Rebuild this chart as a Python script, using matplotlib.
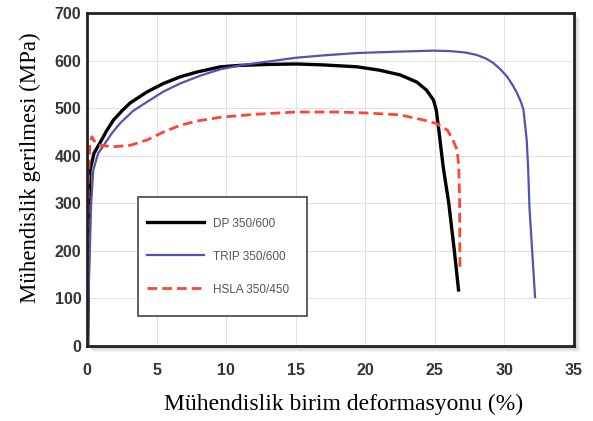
import matplotlib.pyplot as plt
from matplotlib.patches import Rectangle

# engineering stress-strain curves
dp_strain = [0.05, 0.1, 0.15, 0.22, 0.5, 0.93, 1.4, 1.9, 2.5, 3.1, 4.3, 5.5, 6.7, 7.9, 9.6, 11, 13, 15, 17,
             19.4, 21, 22.5, 23.7, 24.4, 24.9, 25.1, 25.3, 25.6, 26.0, 26.4, 26.7]
dp_stress = [0, 150, 300, 370, 405, 427, 452, 475, 494, 511, 534, 552, 566, 576, 587, 590, 592, 593, 591,
             587, 580, 570, 555, 538, 517, 496, 450, 376, 300, 200, 118]

trip_strain = [0.05, 0.15, 0.3, 0.45, 0.8, 1.2, 1.8, 2.4, 3.3, 4.3, 5.5, 6.7, 8.1, 9.6, 11, 13, 15, 17, 19.4,
               22.5, 24.9, 26.1, 27.2, 28.0, 28.7, 29.2, 29.7, 30.2, 30.6, 30.9, 31.2, 31.37, 31.6, 31.7,
               31.8, 31.95, 32.2]
trip_stress = [0, 150, 300, 370, 405, 422, 448, 469, 494, 513, 535, 552, 568, 582, 590, 598, 606, 611, 616,
               619, 621, 620, 617, 612, 604, 595, 582, 566, 548, 532, 512, 496, 433, 376,
               290, 220, 103]

hsla_strain = [0.02, 0.05, 0.1, 0.2, 0.35, 0.6, 0.93, 1.9, 3.1, 4.3, 5.5, 6.7, 7.9, 9.6, 12, 15, 18, 20,
               22.5, 24.2, 25.1, 25.9, 26.3, 26.6, 26.72, 26.78, 26.8]
hsla_stress = [0, 200, 350, 420, 440, 427, 422, 419, 422, 433, 450, 464, 473, 481, 487, 492, 492, 490,
               486, 475, 468, 454, 433, 412, 376, 300, 164]

labels = ["DP 350/600", "TRIP 350/600", "HSLA 350/450"]
xticks = [0, 5, 10, 15, 20, 25, 30, 35]
yticks = [0, 100, 200, 300, 400, 500, 600, 700]

fig = plt.figure(figsize=(5.93, 4.21), dpi=100)
ax = fig.add_axes([0.1467, 0.178, 0.8213, 0.791])

# soft drop shadow behind the frame
for i, a in enumerate([0.10, 0.08, 0.06, 0.04]):
    off = (i + 1) * 1.5
    fig.patches.append(Rectangle((0.1467 + off / 593, 0.178 - off / 421), 0.8213, 0.791,
                                 transform=fig.transFigure, facecolor="black", alpha=a,
                                 edgecolor="none", zorder=-1))

ax.plot(dp_strain, dp_stress, color="black", lw=2.4, label=labels[0], solid_joinstyle="round")
ax.plot(trip_strain, trip_stress, color="#5252b0", lw=1.6, label=labels[1], solid_joinstyle="round")
ax.plot(hsla_strain, hsla_stress, color="#ff4433", lw=2.0, ls=(0, (3.5, 1.8)), label=labels[2])

ax.set_xlim(0, 35)
ax.set_ylim(0, 700)
ax.set_xticks(xticks)
ax.set_yticks(yticks)
ax.grid(color="#dde2e6", lw=0.7)
ax.set_axisbelow(True)
for s in ax.spines.values():
    s.set_linewidth(2.0)
    s.set_color("#222222")
ax.tick_params(axis="x", length=0, pad=12)
ax.tick_params(axis="y", length=0, pad=4)
for t in ax.get_xticklabels() + ax.get_yticklabels():
    t.set_family("Liberation Sans")
    t.set_fontweight("bold")
    t.set_fontsize(11.5)
    t.set_color("#353535")

ax.set_xlabel("Mühendislik birim deformasyonu (%)", family="Liberation Serif", fontsize=17)
ax.xaxis.set_label_coords(0.526, -0.142)
ax.set_ylabel("Mühendislik gerilmesi (MPa)", family="Liberation Serif", fontsize=16.5)
ax.yaxis.set_label_coords(-0.094, 0.535)

# legend box drawn separately so its padding matches the original
ax.add_patch(Rectangle((0.1047, 0.0901), 0.347, 0.3573, transform=ax.transAxes, facecolor="white",
                       edgecolor="#444444", lw=1.2, zorder=4))
leg = ax.legend(loc="upper left", bbox_to_anchor=(0.123, 0.386), borderaxespad=0, frameon=False,
                handlelength=4.8, handletextpad=0.76, borderpad=0, labelspacing=1.78,
                prop={"family": "Liberation Sans", "size": 8.5})
leg.set_zorder(5)
for t in leg.get_texts():
    t.set_color("#555555")

fig.savefig("out.png", dpi=100)
